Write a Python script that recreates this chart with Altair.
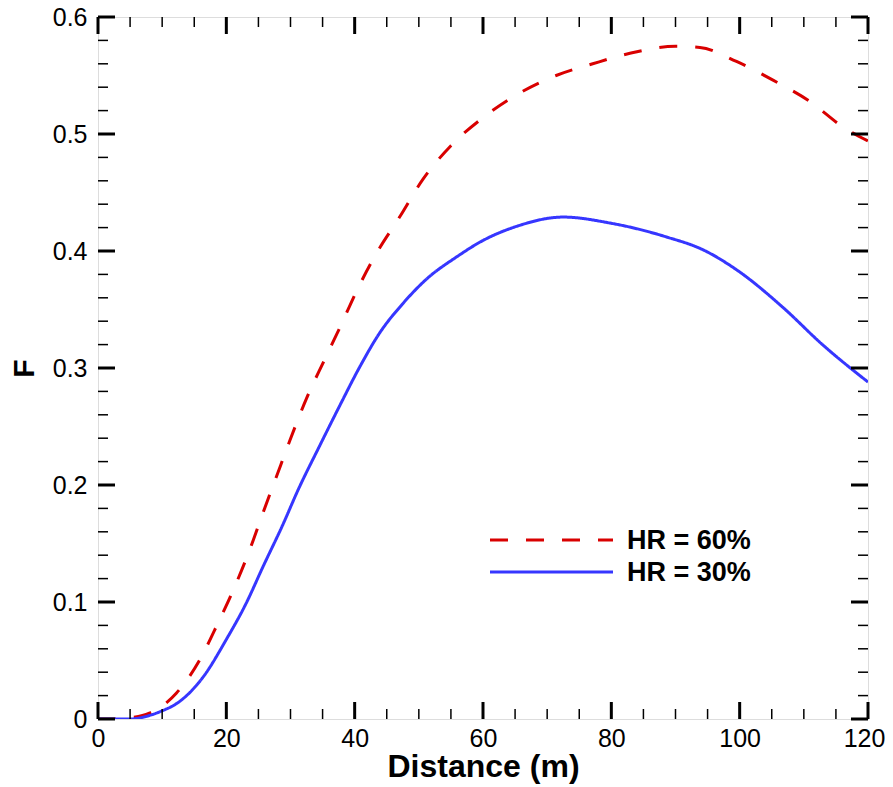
import altair as alt
import pandas as pd

# ---- data ----
x60 = [0, 3, 5, 8, 10, 12.2, 15.8, 18.7, 21.3, 23.6, 25.7, 27.8, 29.9, 32.5, 35.3,
       37.9, 40.5, 43.5, 47, 50.6, 55, 60, 65.7, 71.4, 77.1, 82.9, 90, 93.8, 99.5,
       105.2, 110.9, 116.1, 120]
f60 = [0, 0, 0.001, 0.005, 0.011, 0.022, 0.050, 0.082, 0.113, 0.144, 0.176, 0.207,
       0.238, 0.274, 0.307, 0.337, 0.368, 0.399, 0.429, 0.461, 0.490, 0.514, 0.535,
       0.550, 0.560, 0.569, 0.575, 0.574, 0.562, 0.546, 0.528, 0.506, 0.494]

x30 = [0, 5, 8, 10, 12.2, 16.4, 20, 23.1, 25.7, 28.8, 31.2, 34.5, 37.6, 40.8, 43.9,
       47.5, 51.2, 55.9, 60, 65.2, 72.5, 79.7, 88.6, 94.3, 99.5, 106.7, 112.9, 120]
f30 = [0, 0, 0.003, 0.007, 0.013, 0.036, 0.068, 0.099, 0.130, 0.166, 0.196, 0.233,
       0.267, 0.301, 0.330, 0.355, 0.376, 0.395, 0.409, 0.421, 0.429, 0.424, 0.412,
       0.401, 0.384, 0.352, 0.320, 0.288]

series = ["HR = 60%", "HR = 30%"]
colors = ["#d90000", "#3636ff"]
dashes = [[18, 18], [1, 0]]

x_major = [0, 20, 40, 60, 80, 100, 120]
x_minor = [v for v in range(0, 121, 5) if v % 20 != 0]
y_major = [0, 0.1, 0.2, 0.3, 0.4, 0.5, 0.6]
y_minor = [round(i * 0.02, 2) for i in range(31) if i % 5 != 0]

W, H = 770, 702
FONT = "Liberation Sans"

df = pd.concat([
    pd.DataFrame({"Distance": x60, "F": f60, "series": series[0], "order": range(len(x60))}),
    pd.DataFrame({"Distance": x30, "F": f30, "series": series[1], "order": range(len(x30))}),
])

xscale = alt.Scale(domain=[0, 120], nice=False, zero=False)
yscale = alt.Scale(domain=[0, 0.6], nice=False, zero=False)

lines = alt.Chart(df).mark_line(strokeWidth=3, interpolate="monotone", clip=True).encode(
    x=alt.X("Distance:Q", scale=xscale,
            axis=alt.Axis(title="Distance (m)", values=x_major, format="d",
                          ticks=False, domain=False, grid=False,
                          labelFontSize=25, labelFont=FONT, labelColor="black",
                          labelPadding=7, labelFlush=False,
                          labelOffset={"condition": {"test": "datum.value == 120", "value": -4},
                                       "value": 0},
                          titleFontSize=32, titleFont=FONT, titleFontWeight="bold",
                          titleColor="black", titlePadding=0)),
    y=alt.Y("F:Q", scale=yscale,
            axis=alt.Axis(title="F", values=y_major,
                          labelExpr="datum.value == 0 ? '0' : format(datum.value, '.1f')",
                          ticks=False, domain=False, grid=False,
                          labelFontSize=25, labelFont=FONT, labelColor="black",
                          labelPadding=11, labelFlush=False,
                          titleFontSize=30, titleFont=FONT, titleFontWeight="bold",
                          titleColor="black", titlePadding=13)),
    color=alt.Color("series:N", scale=alt.Scale(domain=series, range=colors), legend=None),
    strokeDash=alt.StrokeDash("series:N", scale=alt.Scale(domain=series, range=dashes),
                              legend=None),
    order="order:Q",
    detail="series:N",
)

def xticks(vals, length, width):
    d = pd.DataFrame({"v": vals})
    base = alt.Chart(d).mark_rule(color="black", strokeWidth=width)
    bottom = base.encode(x=alt.X("v:Q", scale=xscale), y=alt.value(H), y2=alt.value(H - length))
    top = base.encode(x=alt.X("v:Q", scale=xscale), y=alt.value(0), y2=alt.value(length))
    return [bottom, top]

def yticks(vals, length, width):
    d = pd.DataFrame({"v": vals})
    base = alt.Chart(d).mark_rule(color="black", strokeWidth=width)
    left = base.encode(y=alt.Y("v:Q", scale=yscale), x=alt.value(0), x2=alt.value(length))
    right = base.encode(y=alt.Y("v:Q", scale=yscale), x=alt.value(W), x2=alt.value(W - length))
    return [left, right]

tick_layers = (xticks(x_major, 17, 3) + xticks(x_minor, 10, 1.5)
               + yticks(y_major, 17, 3) + yticks(y_minor, 10, 1.5))

# manual legend (inside the plot, lower right)
legend_layers = []
for i, (name, col, dash) in enumerate(zip(series, colors, dashes)):
    ld = pd.DataFrame({"label": [name]})
    ypix = 523 + 32 * i
    legend_layers.append(
        alt.Chart(ld).mark_rule(color=col, strokeWidth=3, strokeDash=dash).encode(
            x=alt.value(392), x2=alt.value(515), y=alt.value(ypix)))
    legend_layers.append(
        alt.Chart(ld).mark_text(align="left", baseline="middle", font=FONT, fontSize=27,
                                fontWeight="bold", color="black").encode(
            x=alt.value(529), y=alt.value(ypix + 1), text="label:N"))

chart = alt.layer(lines, *tick_layers, *legend_layers).properties(
    width=W, height=H,
    autosize=alt.AutoSizeParams(type="none"),
    padding={"left": 90, "top": 9, "right": 17, "bottom": 66},
).configure_view(stroke="black", strokeWidth=3).configure(background="white")

chart.save("out.html", embed_options={"renderer": "svg", "actions": False})
